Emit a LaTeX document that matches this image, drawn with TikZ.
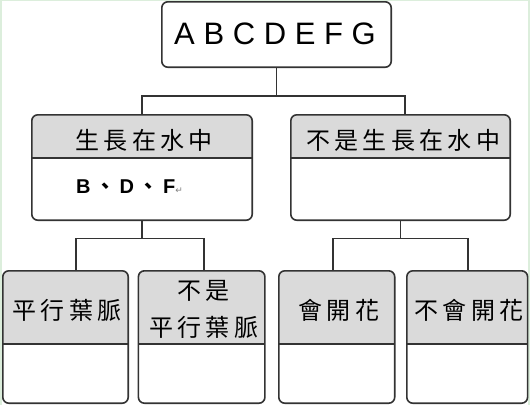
\documentclass[tikz,border=0pt]{standalone}
\usepackage{fontspec}
\setmainfont{Liberation Sans}
\newfontfamily\cjkf[LetterSpace=18]{Noto Sans CJK TC}
\newfontfamily\cjkplain{Noto Sans CJK TC}
\newfontfamily\dejavu{DejaVu Sans}
\usetikzlibrary{fit,calc}
\definecolor{linec}{HTML}{333333}
\definecolor{hdr}{HTML}{DADADA}
\definecolor{greenc}{HTML}{DCEEDC}
\newcommand\tbox[6]{%
  \node[fit={(#2,#3) (#4,#5)}, inner sep=0pt] (#1) {};
  \begin{scope}
    \clip[rounded corners=6pt] (#1.north west) rectangle (#1.south east);
    \fill[hdr] (#2,#3) rectangle (#4,#6);
  \end{scope}
  \draw[line] (#2,#6) -- (#4,#6);
  \draw[line, rounded corners=6pt] (#1.north west) rectangle (#1.south east);
}
\begin{document}
\begin{tikzpicture}[x=1pt,y=-1pt,
  line/.style={draw=linec, line width=1.6pt},
  cj/.style={font=\cjkf\fontsize{24}{37}\selectfont, inner sep=0pt, xshift=2.1pt, align=center}]
\useasboundingbox (0,0) rectangle (530,405);
\fill[white] (0,0) rectangle (530,405);
\draw[greenc, line width=3pt] (0,0) -- (0,405);
\draw[greenc, line width=2pt] (0,0) -- (530,0);
\draw[greenc, line width=2pt] (529,0) -- (529,405);
% top box
\node[fit={(162,2) (391,67)}, inner sep=0pt] (top) {};
\draw[line, rounded corners=6pt] (top.north west) rectangle (top.south east);
\node[anchor=base, inner sep=0pt, font=\fontsize{31}{36}\selectfont] (tT) at (275,44) {A B C D E F G};
% level 2
\tbox{L}{32}{115}{252}{220}{158}
\tbox{R}{291}{115}{510}{220}{158}
\node[cj] (tL) at (142,140) {生長在水中};
\node[cj] (tR) at (401,140) {不是生長在水中};
\node[anchor=base west, inner sep=0pt, font=\bfseries\fontsize{20}{22}\selectfont] (tB) at (76,193.5)
  {B\kern4.5pt{\cjkplain 、}\kern4.5pt D\kern4.5pt{\cjkplain 、}\kern4.5pt F{\dejavu\mdseries\fontsize{9}{10}\selectfont\color{gray}↵}};
% level 3
\tbox{B1}{3}{271}{128}{403}{344}
\tbox{B2}{138.6}{271}{264.7}{403}{344}
\tbox{B3}{279}{271}{394.5}{403}{344}
\tbox{B4}{407}{271}{527.4}{403}{344}
\node[cj] (t1) at (65,310) {平行葉脈};
\node[cj] (t2) at (201.6,309.5) {不是\\平行葉脈};
\node[cj] (t3) at (336.8,310) {會開花};
\node[cj] (t4) at (467,310) {不會開花};
% connectors
\coordinate (y1) at (0,96);
\coordinate (y2) at (0,238.6);
\coordinate (cR) at (405,115);
\coordinate (c1) at (76,271);
\coordinate (c2) at (204,271);
\coordinate (c3) at (333,271);
\coordinate (c4) at (468,271);
\coordinate (h1) at (top.south |- y1);
\coordinate (h2) at (L.south |- y2);
\coordinate (h3) at (R.south |- y2);
\draw[line] (top.south) -- (h1);
\draw[line] (L.north) |- (h1) -| (cR);
\draw[line] (L.south) -- (h2);
\draw[line] (c1) |- (h2) -| (c2);
\draw[line] (R.south) -- (h3);
\draw[line] (c3) |- (h3) -| (c4);
\end{tikzpicture}
\end{document}
